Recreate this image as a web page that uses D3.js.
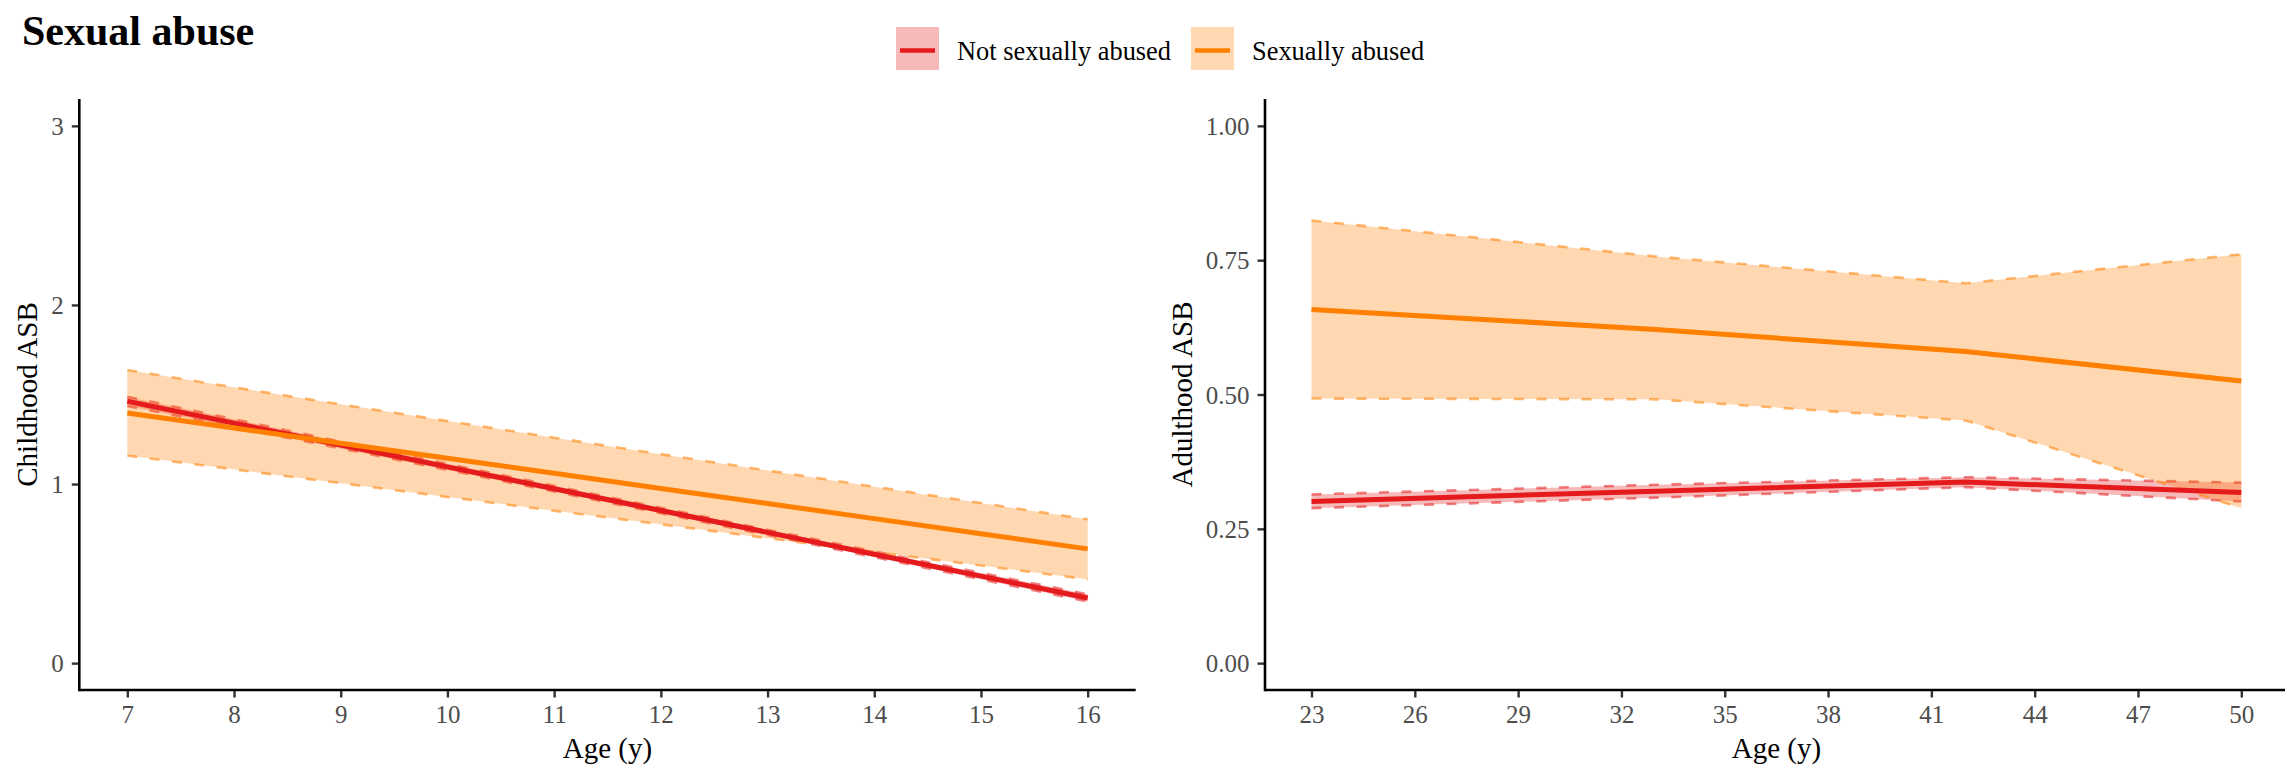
<!DOCTYPE html>
<html>
<head>
<meta charset="utf-8">
<script src="https://cdn.jsdelivr.net/npm/d3@7"></script>
<style>
  body { margin: 0; background: #fff; }
  svg { display: block; font-family: "Liberation Serif", "Times New Roman", serif; }
</style>
</head>
<body>
<div id="chart"></div>
<script>
// groups and colours
const groups = ["Not sexually abused", "Sexually abused"];
const groupColors = ["#E41A1C", "#FF7F00"];

// Childhood panel (age 7-16)
const childAges = [7, 8, 9, 10, 11, 12, 13, 14, 15, 16];
const childNotMean  = [1.462, 1.340, 1.218, 1.096, 0.974, 0.852, 0.730, 0.608, 0.486, 0.364];
const childNotLow   = [1.436, 1.318, 1.199, 1.079, 0.958, 0.837, 0.715, 0.592, 0.468, 0.344];
const childNotHigh  = [1.488, 1.362, 1.237, 1.113, 0.990, 0.867, 0.745, 0.624, 0.504, 0.384];
const childAbMean   = [1.397, 1.313, 1.228, 1.144, 1.060, 0.975, 0.891, 0.807, 0.722, 0.638];
const childAbLow    = [1.159, 1.082, 1.005, 0.928, 0.851, 0.775, 0.698, 0.621, 0.545, 0.468];
const childAbHigh   = [1.637, 1.540, 1.445, 1.352, 1.259, 1.167, 1.076, 0.985, 0.894, 0.803];
const childXTicks = [7, 8, 9, 10, 11, 12, 13, 14, 15, 16];
const childYTicks = [0, 1, 2, 3];

// Adulthood panel (age 23-50)
const adultAges = [23, 33, 42, 50];
const adultNotMean = [0.301, 0.320, 0.337, 0.3175];
const adultNotLow  = [0.2885, 0.308, 0.3276, 0.3008];
const adultNotHigh = [0.314, 0.332, 0.346, 0.336];
const adultAbMean  = [0.658, 0.621, 0.580, 0.525];
const adultAbLow   = [0.4925, 0.491, 0.4515, 0.2885];
const adultAbHigh  = [0.824, 0.757, 0.707, 0.761];
const adultXTicks = [23, 26, 29, 32, 35, 38, 41, 44, 47, 50];
const adultYTicks = [0, 0.25, 0.5, 0.75, 1];

const width = 2285, height = 772;

const svg = d3.select("#chart").append("svg")
  .attr("width", width)
  .attr("height", height);

// title
svg.append("text")
  .attr("x", 22).attr("y", 45)
  .attr("font-size", 42).attr("font-weight", "bold")
  .attr("fill", "#000")
  .text("Sexual abuse");

// legend
const legendItems = [
  { label: groups[0], color: groupColors[0], x: 896 },
  { label: groups[1], color: groupColors[1], x: 1191 }
];
legendItems.forEach(it => {
  const g = svg.append("g").attr("transform", `translate(${it.x},27)`);
  g.append("rect").attr("width", 43).attr("height", 43)
    .attr("fill", it.color).attr("fill-opacity", 0.3);
  g.append("line").attr("x1", 4).attr("x2", 39).attr("y1", 23.5).attr("y2", 23.5)
    .attr("stroke", it.color).attr("stroke-width", 4.5);
  g.append("text").attr("x", 61).attr("y", 32.5)
    .attr("font-size", 26.4).attr("fill", "#000")
    .text(it.label);
});

function rows(ages, mean, low, high) {
  return ages.map((a, i) => ({ age: a, mean: mean[i], low: low[i], high: high[i] }));
}

function drawPanel(p) {
  const x = d3.scaleLinear().domain(p.xDomain).range([p.left, p.right]);
  const y = d3.scaleLinear().domain(p.yDomain).range([p.bottom, p.top]);
  const g = svg.append("g");

  const area = d3.area().x(d => x(d.age)).y0(d => y(d.low)).y1(d => y(d.high));
  const line = k => d3.line().x(d => x(d.age)).y(d => y(d[k]));

  // ribbons with dashed edges
  p.series.forEach((s, i) => {
    g.append("path").datum(s).attr("d", area)
      .attr("fill", groupColors[i]).attr("fill-opacity", 0.3);
    ["low", "high"].forEach(k => {
      g.append("path").datum(s).attr("d", line(k))
        .attr("fill", "none").attr("stroke", groupColors[i])
        .attr("stroke-opacity", 0.55).attr("stroke-width", 2.6)
        .attr("stroke-dasharray", "10,12.5");
    });
  });
  // estimate lines
  p.series.forEach((s, i) => {
    g.append("path").datum(s).attr("d", line("mean"))
      .attr("fill", "none").attr("stroke", groupColors[i])
      .attr("stroke-width", 5);
  });

  // axes
  const xAxis = d3.axisBottom(x).tickValues(p.xTicks).tickSize(7.5).tickPadding(8);
  const yAxis = d3.axisLeft(y).tickValues(p.yTicks).tickSize(7.5).tickPadding(8)
    .tickFormat(p.yFormat);

  const gx = g.append("g").attr("transform", `translate(0,${p.bottom})`).call(xAxis);
  const gy = g.append("g").attr("transform", `translate(${p.left},0)`).call(yAxis);
  [gx, gy].forEach(ax => {
    ax.select(".domain").remove();
    ax.selectAll(".tick line").attr("stroke", "#333").attr("stroke-width", 2.4);
    ax.selectAll(".tick text").attr("fill", "#4D4D4D").attr("font-size", 25)
      .attr("font-family", "Liberation Serif, serif");
  });
  gy.selectAll(".tick text").attr("dy", "0.34em");

  g.append("line").attr("x1", p.left).attr("x2", p.right)
    .attr("y1", p.bottom).attr("y2", p.bottom)
    .attr("stroke", "#000").attr("stroke-width", 2.6);
  g.append("line").attr("x1", p.left).attr("x2", p.left)
    .attr("y1", p.top).attr("y2", p.bottom + 1.3)
    .attr("stroke", "#000").attr("stroke-width", 2.6);

  // axis titles
  g.append("text").attr("x", (p.left + p.right) / 2).attr("y", 758)
    .attr("text-anchor", "middle").attr("font-size", 29).attr("fill", "#000")
    .text("Age (y)");
  g.append("text")
    .attr("transform", `translate(${p.yTitleX},${(p.top + p.bottom) / 2}) rotate(-90)`)
    .attr("text-anchor", "middle").attr("font-size", 29).attr("fill", "#000")
    .text(p.yTitle);
}

drawPanel({
  left: 79.3, right: 1135.7, top: 99, bottom: 690,
  xDomain: [6.55, 16.45], yDomain: [-0.15, 3.15],
  xTicks: childXTicks, yTicks: childYTicks, yFormat: d3.format("d"),
  yTitle: "Childhood ASB", yTitleX: 37,
  series: [rows(childAges, childNotMean, childNotLow, childNotHigh),
           rows(childAges, childAbMean, childAbLow, childAbHigh)]
});

drawPanel({
  left: 1265, right: 2287.8, top: 99, bottom: 690,
  xDomain: [21.65, 51.35], yDomain: [-0.05, 1.05],
  xTicks: adultXTicks, yTicks: adultYTicks, yFormat: d3.format(".2f"),
  yTitle: "Adulthood ASB", yTitleX: 1192,
  series: [rows(adultAges, adultNotMean, adultNotLow, adultNotHigh),
           rows(adultAges, adultAbMean, adultAbLow, adultAbHigh)]
});
</script>
</body>
</html>
